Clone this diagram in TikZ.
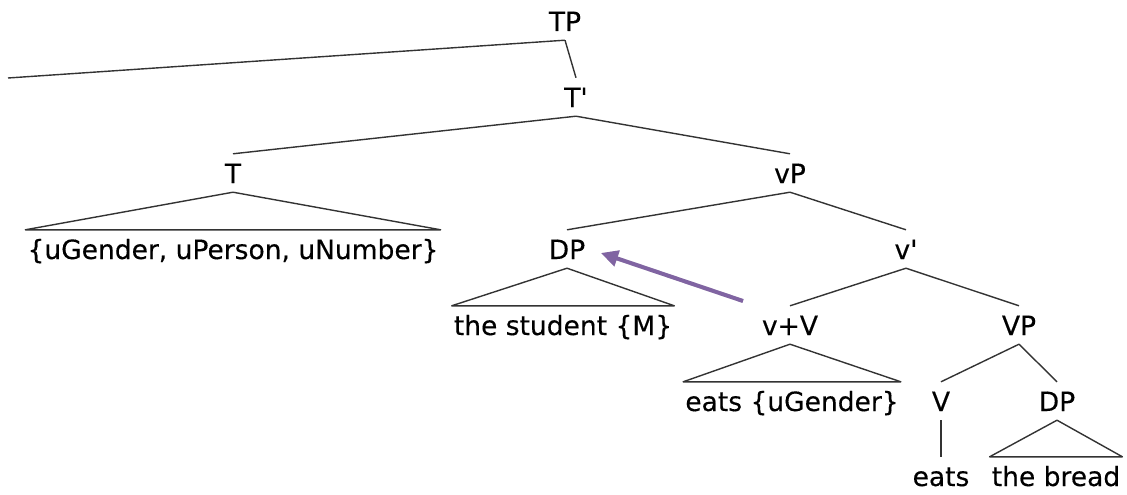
\documentclass[tikz,border=0pt]{standalone}
\usepackage{fontspec}
\newfontfamily\treefont{DejaVu Sans}[FakeBold=0.3]
\usetikzlibrary{arrows.meta}
\definecolor{arrowpurple}{HTML}{8064A2}
\begin{document}
\begin{tikzpicture}[x=1pt,y=-1pt,
  lbl/.style={anchor=base, inner xsep=2pt, inner ysep=4pt, text height=25pt, text depth=5pt,
    font=\treefont\fontsize{26.5}{30}\selectfont},
  branch/.style={draw=black!80, line width=1.4pt, line join=round},
  movearrow/.style={draw=arrowpurple, line width=4pt, -{Triangle[length=17pt,width=16pt]}}]
\useasboundingbox (0,0) rectangle (1127,495);
\node[lbl] (TP) at (565,31) {TP};
\node[lbl] (Tbar) at (576,107) {T'};
\node[lbl] (T) at (233,183) {T};
\node[lbl] (vP) at (790,183) {vP};
\node[lbl] (Tfeat) at (233,259) {\{uGender, uPerson, uNumber\}};
\node[lbl] (DPs) at (567,259) {DP};
\node[lbl] (vbar) at (906,259) {v'};
\node[lbl] (stud) at (563,335) {the student \{M\}};
\node[lbl] (vV) at (790,335) {v+V};
\node[lbl] (VP) at (1019,335) {VP};
\node[lbl] (eatsU) at (792,411) {eats \{uGender\}};
\node[lbl] (V) at (941,411) {V};
\node[lbl] (DPo) at (1057,411) {DP};
\node[lbl] (eats) at (941,486) {eats};
\node[lbl] (bread) at (1056,486) {the bread};
\coordinate (spec) at (8,78);
\coordinate (atail) at (743,301);
\coordinate (ahead) at (601,253);
\draw[branch] (TP.south) -- (spec);
\draw[branch] (TP.south) -- (Tbar.north);
\draw[branch] (Tbar.south) -- (T.north);
\draw[branch] (Tbar.south) -- (vP.north);
\draw[branch] (vP.south) -- (DPs.north);
\draw[branch] (vP.south) -- (vbar.north);
\draw[branch] (vbar.south) -- (vV.north);
\draw[branch] (vbar.south) -- (VP.north);
\draw[branch] (VP.south) -- (V.north);
\draw[branch] (VP.south) -- (DPo.north);
\draw[branch] (V.south) -- (eats.north);
\draw[branch] (T.south) -- (Tfeat.north west) -- (Tfeat.north east) -- cycle;
\draw[branch] (DPs.south) -- (stud.north west) -- (stud.north east) -- cycle;
\draw[branch] (vV.south) -- (eatsU.north west) -- (eatsU.north east) -- cycle;
\draw[branch] (DPo.south) -- (bread.north west) -- (bread.north east) -- cycle;
\draw[movearrow, draw=black, draw opacity=0.12, shift={(1.5,2)}] (atail) -- (ahead);
\draw[movearrow] (atail) -- (ahead);
\end{tikzpicture}
\end{document}
